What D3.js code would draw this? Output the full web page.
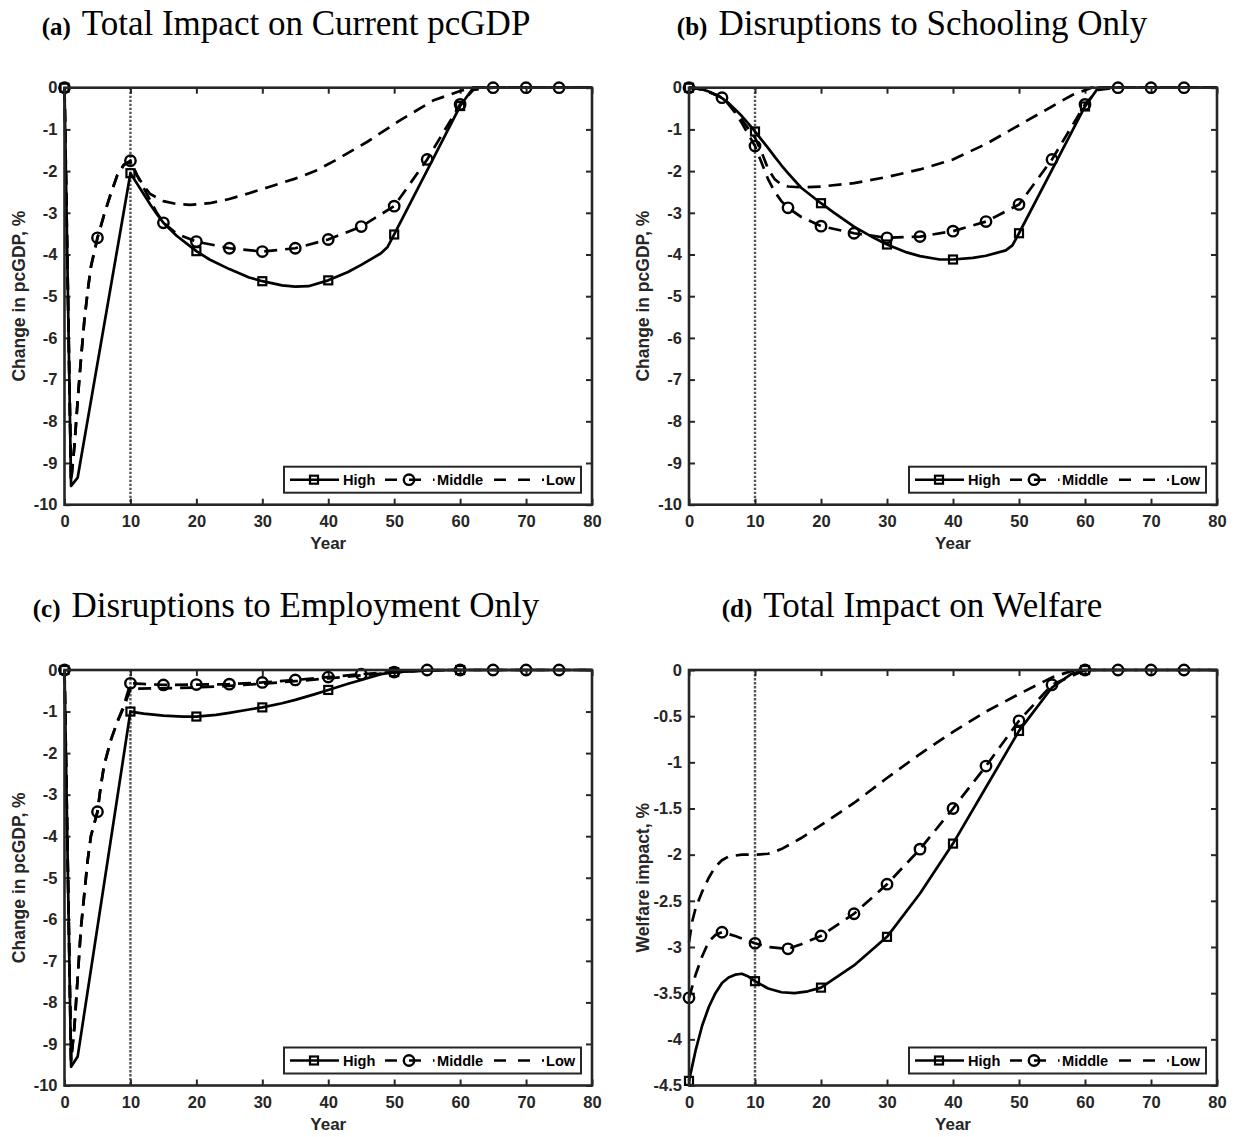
<!DOCTYPE html>
<html>
<head>
<meta charset="utf-8">
<script src="https://cdn.jsdelivr.net/npm/d3@7"></script>
<style>
  body { margin: 0; background: #fff; }
  svg { display: block; }
</style>
</head>
<body>
<svg id="fig" width="1236" height="1137"></svg>
<script>
// ---- shared axis values ----
const yearTicks = [0, 10, 20, 30, 40, 50, 60, 70, 80];
const gdpTicks = [0, -1, -2, -3, -4, -5, -6, -7, -8, -9, -10];
const welfareTicks = [0, -0.5, -1, -1.5, -2, -2.5, -3, -3.5, -4, -4.5];
const squareYears = [0, 10, 20, 30, 40, 50, 60];
const circleYears = [0, 5, 10, 15, 20, 25, 30, 35, 40, 45, 50, 55, 60, 65, 70, 75];
const shockEndYear = 10;
const legendNames = ["High", "Middle", "Low"];

// ---- (a) total impact on current pcGDP: [year, % change] ----
const aHigh = [[0,0],[1,-9.55],[2,-9.35],[10,-2.05],[11,-2.3],[12,-2.55],[13,-2.8],[14,-3.03],[15,-3.24],[17,-3.55],[20,-3.92],[22,-4.12],[25,-4.35],[28,-4.55],[30,-4.64],[33,-4.74],[35,-4.77],[37,-4.76],[40,-4.62],[43,-4.42],[45,-4.25],[48,-3.97],[49,-3.82],[50,-3.52],[55,-1.98],[60,-0.44],[62,0],[65,0],[70,0],[75,0],[80,0]];
const aMiddle = [[0,0],[1,-9.45],[1.5,-8.6],[2,-7.5],[2.5,-6.5],[3,-5.6],[3.5,-4.9],[4,-4.3],[5,-3.6],[6,-3.05],[7,-2.55],[8,-2.1],[9,-1.85],[10,-1.75],[11,-2.1],[12,-2.4],[13,-2.7],[14,-3.0],[15,-3.24],[17,-3.5],[20,-3.69],[25,-3.85],[30,-3.93],[35,-3.85],[40,-3.64],[45,-3.33],[50,-2.84],[55,-1.72],[60,-0.4],[62,-0.05],[65,0],[70,0],[75,0],[80,0]];
const aLow = [[0,0],[1,-9.45],[1.5,-8.6],[2,-7.5],[2.5,-6.5],[3,-5.6],[3.5,-4.9],[4,-4.3],[5,-3.6],[6,-3.05],[7,-2.55],[8,-2.1],[9,-1.85],[10,-1.78],[11,-2.1],[12,-2.35],[13,-2.55],[15,-2.72],[17,-2.79],[19,-2.81],[22,-2.77],[25,-2.67],[28,-2.53],[31,-2.38],[35,-2.18],[38,-2.0],[41,-1.75],[46,-1.29],[51,-0.77],[56,-0.3],[60,-0.08],[62,0],[80,0]];

// ---- (b) schooling disruptions only ----
const bHigh = [[0,0],[1,-0.01],[2,-0.04],[3,-0.09],[4,-0.16],[5,-0.25],[6,-0.37],[7,-0.52],[8,-0.68],[9,-0.86],[10,-1.05],[11,-1.25],[12,-1.45],[13,-1.66],[14,-1.86],[15,-2.05],[17,-2.4],[20,-2.77],[22,-3.0],[25,-3.33],[28,-3.6],[30,-3.76],[33,-3.95],[35,-4.04],[38,-4.12],[40,-4.12],[43,-4.08],[45,-4.03],[48,-3.9],[49,-3.78],[50,-3.49],[55,-1.97],[60,-0.45],[62,0],[80,0]];
const bMiddle = [[0,0],[1,-0.01],[2,-0.04],[3,-0.1],[4,-0.17],[5,-0.24],[6,-0.4],[7,-0.6],[8,-0.85],[9,-1.12],[10,-1.4],[11,-1.8],[12,-2.2],[13,-2.5],[14,-2.72],[15,-2.88],[17,-3.1],[20,-3.32],[25,-3.49],[30,-3.6],[35,-3.57],[40,-3.44],[45,-3.21],[50,-2.8],[55,-1.72],[60,-0.4],[62,-0.05],[65,0],[70,0],[75,0],[80,0]];
const bLow = [[0,0],[2,-0.04],[4,-0.17],[5,-0.24],[6,-0.38],[7,-0.56],[8,-0.77],[9,-0.98],[10,-1.2],[11,-1.55],[12,-1.95],[13,-2.2],[14,-2.32],[15,-2.37],[17,-2.39],[20,-2.37],[25,-2.29],[30,-2.14],[35,-1.96],[40,-1.72],[45,-1.35],[50,-0.9],[55,-0.45],[58,-0.18],[61,0],[80,0]];

// ---- (c) employment disruptions only ----
const cHigh = [[0,0],[1,-9.55],[2,-9.3],[10,-1.0],[12,-1.05],[15,-1.1],[18,-1.12],[20,-1.12],[23,-1.08],[25,-1.03],[28,-0.95],[30,-0.9],[33,-0.8],[35,-0.72],[38,-0.58],[40,-0.48],[43,-0.33],[45,-0.24],[48,-0.1],[50,-0.05],[55,-0.01],[60,0],[80,0]];
const cMiddle = [[0,0],[1,-9.4],[1.5,-8.6],[2,-7.4],[2.5,-6.2],[3,-5.4],[3.5,-4.6],[4,-4.0],[5,-3.41],[5.5,-2.8],[6,-2.3],[7,-1.7],[8,-1.25],[9,-0.85],[10,-0.32],[15,-0.36],[20,-0.35],[25,-0.34],[30,-0.3],[35,-0.24],[40,-0.17],[45,-0.1],[50,-0.05],[55,0],[60,0],[65,0],[70,0],[75,0],[80,0]];
const cLow = [[0,0],[1,-9.4],[1.5,-8.6],[2,-7.4],[2.5,-6.2],[3,-5.4],[3.5,-4.6],[4,-4.0],[5,-3.41],[5.5,-2.8],[6,-2.3],[7,-1.7],[8,-1.25],[9,-0.9],[10,-0.45],[15,-0.44],[20,-0.42],[25,-0.38],[30,-0.33],[35,-0.27],[40,-0.2],[45,-0.13],[50,-0.06],[55,-0.01],[58,0],[80,0]];

// ---- (d) total impact on welfare ----
const dHigh = [[0,-4.45],[1,-4.12],[2,-3.85],[3,-3.65],[4,-3.5],[5,-3.39],[6,-3.33],[7,-3.3],[8,-3.29],[9,-3.32],[10,-3.37],[12,-3.45],[14,-3.49],[16,-3.5],[18,-3.48],[20,-3.44],[25,-3.2],[30,-2.89],[35,-2.42],[40,-1.88],[45,-1.27],[50,-0.66],[55,-0.19],[58,-0.04],[60,0],[80,0]];
const dMiddle = [[0,-3.55],[1,-3.3],[2,-3.1],[3,-2.94],[4,-2.87],[5,-2.84],[7,-2.88],[10,-2.96],[12,-3.0],[15,-3.02],[17,-2.97],[20,-2.88],[25,-2.64],[30,-2.32],[35,-1.94],[40,-1.5],[45,-1.04],[50,-0.55],[55,-0.16],[60,0],[65,0],[70,0],[75,0],[80,0]];
const dLow = [[0,-2.95],[0.5,-2.72],[1,-2.58],[2,-2.4],[3,-2.25],[4,-2.13],[5,-2.06],[6,-2.02],[8,-2.0],[10,-2.0],[12,-1.99],[14,-1.94],[17,-1.82],[20,-1.68],[25,-1.44],[30,-1.17],[35,-0.91],[40,-0.67],[45,-0.45],[50,-0.26],[55,-0.08],[58,-0.01],[60,0],[80,0]];

const panels = [
  { tag: "(a)", title: "Total Impact on Current pcGDP", yLabel: "Change in pcGDP, %", yTicks: gdpTicks, high: aHigh, middle: aMiddle, low: aLow, col: 0, row: 0 },
  { tag: "(b)", title: "Disruptions to Schooling Only", yLabel: "Change in pcGDP, %", yTicks: gdpTicks, high: bHigh, middle: bMiddle, low: bLow, col: 1, row: 0 },
  { tag: "(c)", title: "Disruptions to Employment Only", yLabel: "Change in pcGDP, %", yTicks: gdpTicks, high: cHigh, middle: cMiddle, low: cLow, col: 0, row: 1 },
  { tag: "(d)", title: "Total Impact on Welfare", yLabel: "Welfare impact, %", yTicks: welfareTicks, high: dHigh, middle: dMiddle, low: dLow, col: 1, row: 1 }
];

// ---- layout ----
const INK = "#262626";
const SANS = "'Liberation Sans', Arial, Helvetica, sans-serif";
const SERIF = "'Liberation Serif', 'Times New Roman', serif";
const colX = [[64.5, 592], [689, 1217]];
const rowY = [[87.7, 504.7], [670, 1085.5]];
const titleCenter = [286, 912];
const titleBase = [35, 617];
const DASH = "13,8";

const svg = d3.select("#fig");

panels.forEach(p => {
  const [xl, xr] = colX[p.col];
  const [yt, yb] = rowY[p.row];
  const x = d3.scaleLinear().domain([0, 80]).range([xl, xr]);
  const y = d3.scaleLinear().domain([d3.min(p.yTicks), 0]).range([yb, yt]);
  const fmt = d => (d === 0 ? "0" : String(d));
  const g = svg.append("g");

  // subfigure caption
  const t = g.append("text")
    .attr("x", titleCenter[p.col]).attr("y", titleBase[p.row])
    .attr("text-anchor", "middle")
    .attr("font-family", SERIF).attr("fill", "#000");
  t.append("tspan").attr("font-weight", "bold").attr("font-size", 25).text(p.tag);
  t.append("tspan").attr("dx", 11).attr("font-size", 35).text(p.title);

  // reference line at end of shock
  g.append("line")
    .attr("x1", x(shockEndYear)).attr("x2", x(shockEndYear))
    .attr("y1", yt).attr("y2", yb)
    .attr("stroke", "#555").attr("stroke-width", 2.4)
    .attr("stroke-dasharray", "2.4,1.6");

  // axes (ticks point inward, box drawn separately)
  const styleAxis = sel => {
    sel.select(".domain").remove();
    sel.selectAll(".tick line").attr("stroke", INK).attr("stroke-width", 2);
    sel.selectAll(".tick text").attr("fill", INK);
    sel.attr("font-family", SANS).attr("font-size", 16.5).attr("font-weight", "bold");
  };
  g.append("g").attr("transform", `translate(0,${yb})`)
    .call(d3.axisBottom(x).tickValues(yearTicks).tickSize(-6).tickSizeOuter(0).tickPadding(10.5).tickFormat(fmt))
    .call(styleAxis);
  g.append("g").attr("transform", `translate(0,${yt})`)
    .call(d3.axisTop(x).tickValues(yearTicks).tickSize(-6).tickSizeOuter(0).tickFormat(""))
    .call(styleAxis);
  g.append("g").attr("transform", `translate(${xl},0)`)
    .call(d3.axisLeft(y).tickValues(p.yTicks).tickSize(-6).tickSizeOuter(0).tickPadding(7).tickFormat(fmt))
    .call(styleAxis);
  g.append("g").attr("transform", `translate(${xr},0)`)
    .call(d3.axisRight(y).tickValues(p.yTicks).tickSize(-6).tickSizeOuter(0).tickFormat(""))
    .call(styleAxis);

  // axis labels
  g.append("text")
    .attr("x", (xl + xr) / 2).attr("y", yb + 44.5)
    .attr("text-anchor", "middle")
    .attr("font-family", SANS).attr("font-size", 17).attr("font-weight", "bold")
    .attr("fill", INK).text("Year");
  g.append("text")
    .attr("transform", `translate(${xl - 40},${(yt + yb) / 2}) rotate(-90)`)
    .attr("text-anchor", "middle")
    .attr("font-family", SANS).attr("font-size", 17.5).attr("font-weight", "bold")
    .attr("fill", INK).text(p.yLabel);

  // series
  const line = d3.line().x(d => x(d[0])).y(d => y(d[1]));
  g.append("path").datum(p.high).attr("d", line)
    .attr("fill", "none").attr("stroke", "#000").attr("stroke-width", 2.7).attr("stroke-linejoin", "round");
  g.append("path").datum(p.middle).attr("d", line)
    .attr("fill", "none").attr("stroke", "#000").attr("stroke-width", 2.7).attr("stroke-dasharray", DASH);
  g.append("path").datum(p.low).attr("d", line)
    .attr("fill", "none").attr("stroke", "#000").attr("stroke-width", 2.7).attr("stroke-dasharray", DASH);

  // markers
  const sq = squareYears.map(yr => p.high.find(d => d[0] === yr)).filter(Boolean);
  g.selectAll(null).data(sq).enter().append("rect")
    .attr("x", d => x(d[0]) - 4).attr("y", d => y(d[1]) - 4)
    .attr("width", 8).attr("height", 8)
    .attr("fill", "none").attr("stroke", "#000").attr("stroke-width", 2.2);
  const ci = circleYears.map(yr => p.middle.find(d => d[0] === yr)).filter(Boolean);
  g.selectAll(null).data(ci).enter().append("circle")
    .attr("cx", d => x(d[0])).attr("cy", d => y(d[1])).attr("r", 5.2)
    .attr("fill", "none").attr("stroke", "#000").attr("stroke-width", 2.4);

  // axes box
  g.append("rect")
    .attr("x", xl).attr("y", yt).attr("width", xr - xl).attr("height", yb - yt)
    .attr("fill", "none").attr("stroke", INK).attr("stroke-width", 2.6);

  // legend
  const L = xr - 11 - 297, T = yb - 12 - 26, cy = T + 13;
  const lg = g.append("g");
  lg.append("rect").attr("x", L).attr("y", T).attr("width", 297).attr("height", 26)
    .attr("fill", "#fff").attr("stroke", INK).attr("stroke-width", 2);
  const legendItems = [
    { name: legendNames[0], x0: 6, x1: 55, dash: null, marker: "square", mx: 30, tx: 59 },
    { name: legendNames[1], x0: 101, x1: 150.5, dash: "12,12", marker: "circle", mx: 125, tx: 153 },
    { name: legendNames[2], x0: 210, x1: 260, dash: "12,12", marker: null, mx: 0, tx: 262 }
  ];
  legendItems.forEach(it => {
    const ln = lg.append("line").attr("x1", L + it.x0).attr("x2", L + it.x1)
      .attr("y1", cy).attr("y2", cy).attr("stroke", "#000").attr("stroke-width", 2.4);
    if (it.dash) ln.attr("stroke-dasharray", it.dash);
    if (it.marker === "square") {
      lg.append("rect").attr("x", L + it.mx - 4).attr("y", cy - 4).attr("width", 8).attr("height", 8)
        .attr("fill", "none").attr("stroke", "#000").attr("stroke-width", 2.2);
    } else if (it.marker === "circle") {
      lg.append("circle").attr("cx", L + it.mx).attr("cy", cy).attr("r", 5.2)
        .attr("fill", "none").attr("stroke", "#000").attr("stroke-width", 2.4);
    }
    lg.append("text").attr("x", L + it.tx).attr("y", cy + 5.3)
      .attr("font-family", SANS).attr("font-size", 14.6).attr("font-weight", "bold")
      .attr("fill", "#000").text(it.name);
  });
});
</script>
</body>
</html>
